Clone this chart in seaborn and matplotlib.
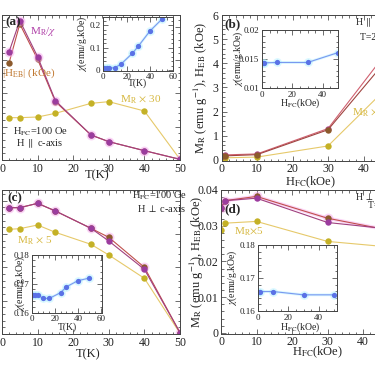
import numpy as np
import pandas as pd
import seaborn as sns
import matplotlib.pyplot as plt
from matplotlib.ticker import MultipleLocator, FuncFormatter

# (a) H || c-axis, H_FC = 100 Oe, vs T (y axis labels cut off in the source)
T_a = [2, 5, 10, 15, 25, 30, 40, 50]
mrchi_a = [3.25, 4.18, 3.10, 1.78, 0.75, 0.55, 0.28, 0.02]
heb_a = [2.92, 4.08, 3.02, 1.75, 0.75, 0.55, 0.28, 0.02]
mr30_a = [1.27, 1.27, 1.29, 1.40, 1.70, 1.75, 1.47, 0.02]
Tin_a = [1, 3, 5, 10, 15, 25, 30, 40, 50]
chi_a = [0.012, 0.012, 0.010, 0.013, 0.027, 0.076, 0.107, 0.174, 0.225]

# (b) H || c-axis, T = 2 K, vs H_FC
H_b = [0.1, 1, 10, 30, 50]
mrchi_b = [0.18, 0.21, 0.25, 1.30, 5.12]
heb_b = [0.15, 0.17, 0.22, 1.25, 4.75]
mr3_b = [0.07, 0.09, 0.12, 0.58, 3.48]
Hin_b = [0.5, 1.5, 10, 30, 50]
chi_b = [0.01434, 0.01434, 0.0144, 0.0144, 0.0161]

# (c) H perp c-axis, H_FC = 100 Oe, vs T
T_c = [2, 5, 10, 15, 25, 30, 40, 50]
mrchi_c = [3.79, 3.79, 3.92, 3.69, 3.17, 2.79, 1.94, 0.04]
heb_c = [3.79, 3.79, 3.92, 3.69, 3.17, 2.90, 2.00, 0.04]
mr5_c = [3.14, 3.16, 3.27, 3.05, 2.69, 2.37, 1.67, 0.02]
Tin_c = [1, 3, 5, 10, 15, 25, 30, 40, 50]
chi_c = [0.1660, 0.1660, 0.1660, 0.1649, 0.1649, 0.1669, 0.1689, 0.1710, 0.1719]

# (d) H perp c-axis, T = 2 K, vs H_FC
H_d = [0.1, 1, 10, 30, 50]
mrchi_d = [0.0349, 0.0370, 0.0377, 0.0309, 0.0288]
heb_d = [0.0349, 0.0370, 0.0382, 0.0321, 0.0282]
mr5_d = [0.0288, 0.0307, 0.0312, 0.0256, 0.0238]
Hin_d = [0.2, 1, 10, 30, 50]
chi_d = [0.1659, 0.1659, 0.1659, 0.1649, 0.1649]

sns.set_style('ticks')
plt.rcParams['font.family'] = ['Liberation Serif', 'DejaVu Serif']
plt.rcParams['mathtext.fontset'] = 'stix'

W, H = 375, 366
fig = plt.figure(figsize=(3.75, 3.66), dpi=100)

PURPLE, PLINE = '#9b3c9e', '#a0407f'
BROWN, BLINE = '#8c5a2c', '#c0504c'
OLIVE, OLINE = '#c4b126', '#e6c96a'
BLUE, BLLINE = '#5a72e6', '#7a98f0'
PINK, CYAN = '#f7a8ee', '#b4f2ff'


def box(l, t, r, b):
    return fig.add_axes([l / W, 1 - b / H, (r - l) / W, (b - t) / H])


def ftext(x, y, s, **kw):
    kw.setdefault('va', 'center')
    kw.setdefault('ha', 'left')
    fig.text(x / W, 1 - y / H, s, **kw)


def series(ax, x, y, mc, lc, ms=4.6, glow=None, glow_lw=2.0):
    if glow:
        sns.lineplot(x=x, y=y, ax=ax, color=glow, lw=glow_lw, alpha=0.5, marker='o',
                     markersize=ms + 2.5, markeredgewidth=0)
    sns.lineplot(x=x, y=y, ax=ax, color=lc, lw=0.8, marker='o', markersize=ms,
                 markerfacecolor=mc, markeredgewidth=0)


def frame(ax, xmaj, xmin, ymaj, ymin, fs, ylabels=True):
    ax.xaxis.set_major_locator(MultipleLocator(xmaj))
    ax.xaxis.set_minor_locator(MultipleLocator(xmin))
    ax.yaxis.set_major_locator(MultipleLocator(ymaj))
    ax.yaxis.set_minor_locator(MultipleLocator(ymin))
    fmt = FuncFormatter(lambda v, p: f'{v:g}')
    ax.xaxis.set_major_formatter(fmt)
    ax.yaxis.set_major_formatter(fmt)
    ax.tick_params(which='both', direction='in', top=True, right=True,
                   labelsize=fs, pad=2, width=0.6, color='#555555', labelcolor='#222222',
                   labelleft=ylabels)
    ax.tick_params(which='major', length=3.5)
    ax.tick_params(which='minor', length=1.8)
    for s in ax.spines.values():
        s.set_linewidth(0.7)
        s.set_color('#444444')
    ax.set_xlabel('')
    ax.set_ylabel('')


def labels(ax, xl, xpos, yl=None, ypos=None, fs=9):
    ax.set_xlabel(xl, fontsize=fs, va='center', color='#222222')
    ax.xaxis.set_label_coords(*xpos)
    if yl:
        ax.set_ylabel(yl, fontsize=fs, va='center', color='#222222')
        ax.yaxis.set_label_coords(*ypos)


ylab = r'M$_\mathrm{R}$ (emu g$^{-1}$), H$_\mathrm{EB}$ (kOe)'
chilab = r'$\chi$(emu/g.kOe)'
hfc = r'H$_\mathrm{FC}$(kOe)'

# ---- (a)
ax = box(2, 15, 180, 160)
series(ax, T_a, mr30_a, OLIVE, OLINE)
series(ax, T_a, heb_a, BROWN, BLINE)
series(ax, T_a, mrchi_a, PURPLE, PLINE, glow=PINK, glow_lw=0)
ax.set_xlim(0, 50)
ax.set_ylim(0, 4.35)
frame(ax, 10, 2, 1, 0.2, 8.5, ylabels=False)
labels(ax, 'T(K)', (0.534, -0.105))

ia = box(103.3, 16.7, 173.3, 70.7)
series(ia, Tin_a, chi_a, BLUE, BLLINE, ms=3.8, glow=CYAN)
ia.set_xlim(0, 60)
ia.set_ylim(-0.001, 0.237)
frame(ia, 20, 5, 0.1, 0.02, 6.5)
labels(ia, 'T(K)', (0.48, -0.24), chilab, (-0.30, 0.5), fs=7)

# ---- (b)
ax = box(221.5, 15, 399, 160.7)
series(ax, H_b, mr3_b, OLIVE, OLINE)
series(ax, H_b, mrchi_b, '#b04a8a', '#d06070')
series(ax, H_b, heb_b, BROWN, '#a04440')
ax.set_xlim(0, 50)
ax.set_ylim(-0.03, 6)
frame(ax, 10, 2, 1, 0.2, 8.5)
labels(ax, hfc, (0.5, -0.15), ylab, (-0.115, 0.5))

ib = box(262, 30, 338, 88)
series(ib, Hin_b, chi_b, BLUE, BLLINE, ms=3.8, glow=CYAN)
ib.set_xlim(0, 50)
ib.set_ylim(0.01, 0.02)
frame(ib, 20, 5, 0.005, 0.001, 6.5)
labels(ib, hfc, (0.5, -0.26), chilab, (-0.31, 0.5), fs=7)

# ---- (c)
ax = box(2, 190, 180, 334)
series(ax, T_c, mr5_c, OLIVE, OLINE)
series(ax, T_c, heb_c, BROWN, BLINE, glow=PINK, glow_lw=0)
series(ax, T_c, mrchi_c, PURPLE, PLINE)
ax.set_xlim(0, 50)
ax.set_ylim(0, 4.32)
frame(ax, 10, 2, 1, 0.2, 8.5, ylabels=False)
labels(ax, 'T(K)', (0.483, -0.139))

ic = box(32, 254.5, 102, 312.7)
series(ic, Tin_c, chi_c, BLUE, BLLINE, ms=3.8, glow=CYAN)
ic.set_xlim(0, 61)
ic.set_ylim(0.16, 0.18)
frame(ic, 20, 5, 0.01, 0.002, 6.5)
labels(ic, 'T(K)', (0.5, -0.25), chilab, (-0.17, 0.5), fs=7)

# ---- (d)
ax = box(221, 190, 398.5, 333.5)
series(ax, H_d, mr5_d, OLIVE, OLINE)
series(ax, H_d, heb_d, BROWN, BLINE, glow=PINK, glow_lw=2.5)
series(ax, H_d, mrchi_d, PURPLE, PLINE)
ax.set_xlim(0, 50)
ax.set_ylim(-0.0002, 0.04)
frame(ax, 10, 2, 0.01, 0.002, 8.5)
labels(ax, hfc, (0.546, -0.129), ylab, (-0.135, 0.5))

idd = box(258, 245, 337, 311)
series(idd, Hin_d, chi_d, BLUE, BLLINE, ms=3.8, glow=CYAN)
idd.set_xlim(0, 52)
idd.set_ylim(0.16, 0.18)
frame(idd, 20, 5, 0.01, 0.002, 6.5)
labels(idd, hfc, (0.53, -0.24), chilab, (-0.33, 0.5), fs=7)

# ---- annotations
ftext(5, 22, '(a)', fontsize=9.5, fontweight='bold')
ftext(30, 32, r'M$_\mathrm{R}$/$\chi$', fontsize=8, color='#b040a8')
ftext(2, 73, r'|H$_\mathrm{EB}$| (kOe)', fontsize=8, color='#c07830')
ftext(120, 100, r'M$_\mathrm{R}$ $\times$ 30', fontsize=8, color='#d6b840')
ftext(13, 132, r'H$_\mathrm{FC}$=100 Oe', fontsize=7.5, color='#222222')
ftext(16, 144, r'H $\parallel$ c-axis', fontsize=7.5, color='#222222')

ftext(224, 24, '(b)', fontsize=9.5, fontweight='bold')
ftext(355, 23, r'H $\parallel$ c-axis', fontsize=7, color='#222222')
ftext(360, 38, 'T=2 K', fontsize=7, color='#222222')
ftext(352, 113, r'M$_\mathrm{R}$ $\times$ 3', fontsize=8, color='#d6b840')

ftext(7, 198, '(c)', fontsize=9.5, fontweight='bold')
ftext(132, 196, r'H$_\mathrm{FC}$=100 Oe', fontsize=7.5, color='#222222')
ftext(137, 209, r'H $\perp$ c-axis', fontsize=7.5, color='#222222')
ftext(17, 241, r'M$_\mathrm{R}$ $\times$ 5', fontsize=8, color='#d6b840')

ftext(224, 209, '(d)', fontsize=9.5, fontweight='bold')
ftext(234, 232, r'M$_\mathrm{R}$$\times$5', fontsize=8, color='#d6b840')
ftext(355, 196, r'H $\perp$ c-axis', fontsize=7, color='#222222')
ftext(368, 206, 'T=2 K', fontsize=7, color='#222222')

plt.savefig('out.png', dpi=100)
